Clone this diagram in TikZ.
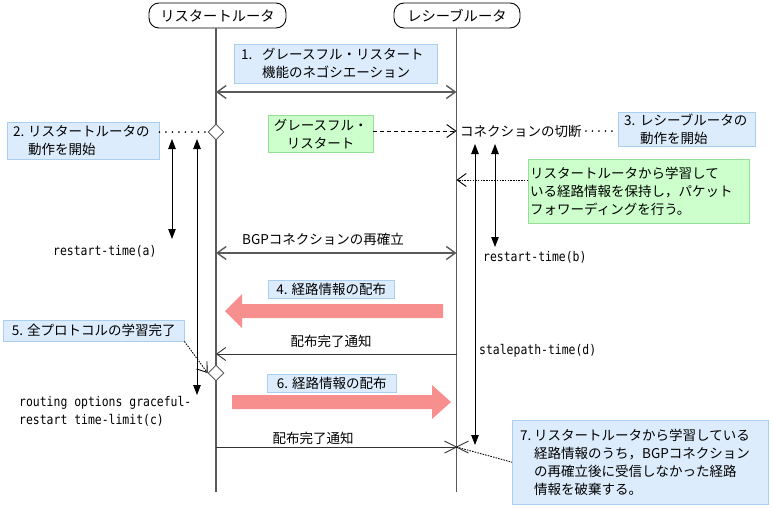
\documentclass[tikz,border=0pt]{standalone}
\usepackage{fontspec}
\setmainfont{Noto Sans CJK JP}
\newfontfamily\monof[FakeStretch=0.86]{DejaVu Sans Mono}
\usetikzlibrary{arrows.meta,shapes.geometric}
\definecolor{bluebg}{RGB}{221,236,252}
\definecolor{bluebd}{RGB}{170,206,240}
\definecolor{greenbg}{RGB}{204,255,204}
\definecolor{greenbd}{RGB}{150,222,150}
\definecolor{pinkc}{RGB}{247,143,143}
\definecolor{linec}{RGB}{90,90,90}
\begin{document}
\begin{tikzpicture}[x=1pt,y=-1pt,
  jp/.style={font=\fontsize{13.5}{18}\selectfont},
  mono/.style={font=\monof\fontsize{13.3}{18}\selectfont, inner sep=0pt},
  head/.style={draw, rounded corners=10pt, minimum height=25pt, inner sep=0pt, line width=0.9pt, font=\fontsize{14.3}{16}\selectfont},
  bbox/.style={draw=bluebd, fill=bluebg, anchor=north west, inner xsep=7pt, inner ysep=0pt, align=left, jp},
  gbox/.style={draw=greenbd, fill=greenbg, anchor=north west, inner ysep=0pt, jp},
  life/.style={draw=linec, line width=1.2pt},
  msg/.style={draw=linec, line width=1.4pt, >={Straight Barb[length=9pt,width=13pt]}},
  thinmsg/.style={draw=black!80, line width=0.9pt, >={Straight Barb[length=9pt,width=13pt]}},
  dotline/.style={line width=1.8pt, line cap=round, dash pattern=on 0pt off 6.5pt},
  fdot/.style={line width=0.9pt, dash pattern=on 1.5pt off 1.2pt, >={Straight Barb[length=9pt,width=13pt]}},
  dsh/.style={line width=0.9pt, dash pattern=on 4pt off 3pt, >={Straight Barb[length=9pt,width=13pt]}},
  varrow/.style={line width=0.9pt, {Triangle[length=10pt,width=7.5pt]}-{Triangle[length=10pt,width=7.5pt]}},
  dia/.style={diamond, draw=linec, fill=white, line width=0.9pt, minimum width=16pt, minimum height=16pt, inner sep=0pt}
]
\useasboundingbox (0,0) rectangle (772,507);
% headers and lifelines
\node[head, minimum width=137pt] (hL) at (217.5,15.5) {リスタートルータ};
\node[head, minimum width=126pt] (hR) at (457,15.5) {レシーブルータ};
\coordinate (Lt) at (216,28); \coordinate (Lb) at (216,492);
\coordinate (Rt) at (456.5,28); \coordinate (Rb) at (456.5,492);
\draw[life] (Lt) -- (Lb);
\draw[life] (Rt) -- (Rb);
% 1
\node[bbox, text width=189pt, minimum height=39pt] (b1) at (234,44) {\makebox[21pt][l]{1.}グレースフル・リスタート\\\hspace*{21pt}機能のネゴシエーション};
\coordinate (L1) at (216,92); \coordinate (R1) at (456.5,92);
\draw[msg, <->] (L1) -- (R1);
% 2
\node[dia] (d1) at (216,132) {};
\node[bbox, text width=140pt, inner xsep=6pt, minimum height=37pt] (b2) at (7,122) {\makebox[15pt][l]{2.}リスタートルータの\\\hspace*{15pt}動作を開始};
\draw[dotline] (b2.east |- d1) -- (d1.west);
% graceful restart
\node[gbox, minimum width=105pt, minimum height=37pt, inner xsep=0pt, align=center] (g1) at (268,115) {グレースフル・\\リスタート};
\coordinate (R2) at (456.5,131);
\draw[dsh, ->] (g1.east |- R2) -- (R2);
\node[jp, anchor=west, inner sep=0pt] (cut) at (460,131) {コネクションの切断};
\node[bbox, text width=125pt, inner xsep=6pt, minimum height=34pt] (b3) at (618,112) {\makebox[16pt][l]{3.}レシーブルータの\\\hspace*{16pt}動作を開始};
\draw[dotline] ([xshift=4pt]cut.east) -- (b3.west |- cut.east);
% left timers
\coordinate (a1t) at (172,139); \coordinate (a1b) at (172,239);
\coordinate (a2t) at (197,139); \coordinate (a2b) at (197,395);
\draw[varrow] (a1t) -- (a1b);
\draw[varrow] (a2t) -- (a2b);
\node[mono, anchor=west] (ta) at (53,251) {restart-time(a)};
% right timers
\coordinate (c1t) at (475,144); \coordinate (c1b) at (475,445);
\coordinate (c2t) at (495,144); \coordinate (c2b) at (495,247);
\draw[varrow] (c1t) -- (c1b);
\draw[varrow] (c2t) -- (c2b);
% green 2
\node[gbox, text width=217pt, inner xsep=2pt, minimum height=64pt, align=left] (g2) at (528,159) {リスタートルータから学習して\\いる経路情報を保持し，パケット\\フォワーディングを行う。};
\coordinate (R3) at (456.5,180);
\draw[fdot, ->] (g2.west |- R3) -- (R3);
% BGP re-establish
\node[jp, inner sep=0pt] (bgp) at (323,239) {BGPコネクションの再確立};
\coordinate (L4) at (216,253); \coordinate (R4) at (456.5,253);
\draw[msg, <->] (L4) -- (R4);
\node[mono, anchor=west] (tb) at (483,257) {restart-time(b)};
% 4
\node[bbox, minimum width=126pt, minimum height=18pt] (b4) at (268,280) {4. 経路情報の配布};
\fill[pinkc] (443,304) -- (242,304) -- (242,294) -- (225,311) -- (242,328) -- (242,318) -- (443,318) -- cycle;
\node[jp, inner sep=0pt] (n1) at (331,341) {配布完了通知};
\coordinate (L5) at (216,354); \coordinate (R5) at (456.5,354);
\draw[thinmsg, ->] (R5) -- (L5);
\node[mono, anchor=west] (td) at (479,351) {stalepath-time(d)};
% 5
\node[bbox, minimum width=181pt, minimum height=21pt] (b5) at (3,320) {5. 全プロトコルの学習完了};
\node[dia] (d2) at (216,373) {};
\draw[fdot, ->] (b5.south east) -- (d2.west);
% 6
\node[bbox, minimum width=129pt, minimum height=18pt] (b6) at (267,374) {6. 経路情報の配布};
\fill[pinkc] (232,395) -- (432,395) -- (432,385) -- (451,402) -- (432,419) -- (432,409) -- (232,409) -- cycle;
\node[mono, anchor=north west, align=left] (tc) at (19,396) {routing options graceful-\\restart time-limit(c)};
% final
\node[jp, inner sep=0pt] (n2) at (313,438) {配布完了通知};
\coordinate (L6) at (216,447); \coordinate (R6) at (456.5,447);
\draw[thinmsg] (L6) -- (R6);
\draw[thinmsg] ([shift={(-12,-6)}]R6) -- ([shift={(12,6)}]R6);
\draw[thinmsg] ([shift={(-12,6)}]R6) -- ([shift={(12,-6)}]R6);
\node[bbox, text width=240pt, inner xsep=8pt, minimum height=84pt] (b7) at (512,420) {\makebox[14pt][l]{7.}リスタートルータから学習している\\\hspace*{14pt}経路情報のうち，BGPコネクション\\\hspace*{14pt}の再確立後に受信しなかった経路\\\hspace*{14pt}情報を破棄する。};
\draw[fdot] (R6) -- (b7.west);
\end{tikzpicture}
\end{document}
